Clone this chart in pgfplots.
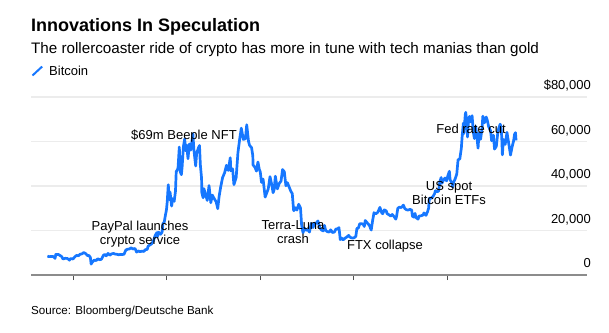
\documentclass[border=0pt]{standalone}
\usepackage{pgfplots}
\pgfplotsset{compat=1.18}
\usepackage{fontspec}
\setmainfont{Liberation Sans}
\definecolor{btc}{RGB}{22,119,255}
\definecolor{gridc}{RGB}{236,236,236}
\definecolor{axisc}{RGB}{140,140,140}
\definecolor{tickc}{RGB}{80,80,80}
\newcommand{\fs}[1]{\fontsize{#1bp}{#1bp}\selectfont}
\begin{document}
\begin{tikzpicture}[x=1bp,y=1bp]
\useasboundingbox (0,0) rectangle (609,332);
\node[anchor=base west, inner sep=0pt] at (31,301) {\fs{18}\bfseries Innovations In Speculation};
\node[anchor=base west, inner sep=0pt] at (31,278.7) {\fs{15.2}The rollercoaster ride of crypto has more in tune with tech manias than gold};
\draw[btc, line width=2bp] (32.5,256.5) -- (42.2,265.5);
\node[anchor=base west, inner sep=0pt] at (49,257) {\fs{13}Bitcoin};
\node[anchor=base west, inner sep=0pt] at (31,18) {\fs{11.6}Source: Bloomberg/Deutsche Bank};
\begin{axis}[
  at={(31bp,57bp)}, anchor=south west,
  width=556bp, height=178bp, scale only axis,
  xmin=2019.551, xmax=2025.497, ymin=0, ymax=80000,
  axis x line*=bottom, axis y line*=right,
  x axis line style={draw=axisc, line width=2bp},
  y axis line style={draw=none},
  xtick={2020,2021,2022,2023,2024}, xticklabels={{},{},{},{},{}},
  tick align=outside,
  major tick length=5bp,
  xtick style={draw=tickc, line width=0.8bp},
  scaled y ticks=false, scaled x ticks=false,
  ytick={0,20000,40000,60000,80000},
  yticklabels={0,{20,000},{40,000},{60,000},{\$80,000}},
  ytick style={draw=none},
  ymajorgrids, grid style={draw=gridc, line width=1.5bp},
  yticklabel style={anchor=base east, inner sep=0pt, xshift=-1bp, yshift=7.5bp, font=\fs{13}},
  /pgf/number format/assume math mode=true,
  clip=false,
]
\addplot[btc, line width=2.7bp, line join=round, no marks] coordinates {
(2019.727,8500) (2019.745,8250) (2019.765,8300) (2019.784,8350) (2019.797,8100) (2019.808,7450) (2019.816,9250) (2019.827,9150) (2019.841,9300) (2019.860,8800) (2019.879,8300) (2019.893,7200) (2019.901,7300) (2019.918,7500) (2019.937,7450) (2019.953,7100) (2019.962,6650) (2019.970,7250) (2019.984,7350)
(2020.000,7200) (2020.019,8150) (2020.038,8800) (2020.058,8650) (2020.077,9350) (2020.096,9500) (2020.115,10100) (2020.134,9700) (2020.153,8800) (2020.170,8800) (2020.186,7900) (2020.194,4900) (2020.200,5400) (2020.216,6200) (2020.227,6700) (2020.247,6500) (2020.266,7300) (2020.285,6850) (2020.304,7100) (2020.323,8700) (2020.339,9300) (2020.355,8600) (2020.375,9700) (2020.393,8900) (2020.413,9500) (2020.432,9700) (2020.451,9400) (2020.470,9300) (2020.489,9100) (2020.508,9250) (2020.527,9200) (2020.546,9350) (2020.565,11200) (2020.584,11600) (2020.603,11700) (2020.622,12200) (2020.641,11700) (2020.664,11900) (2020.680,10300) (2020.699,10800) (2020.718,10500) (2020.737,10700) (2020.756,10600) (2020.775,11400) (2020.794,11500) (2020.803,12900) (2020.822,13500) (2020.841,14000) (2020.860,15300) (2020.879,17800) (2020.898,19100) (2020.901,17100) (2020.916,19200) (2020.937,18300) (2020.953,19300) (2020.962,23100) (2020.976,23800) (2020.989,27000)
(2021.000,29400) (2021.008,33000) (2021.019,40600) (2021.030,33900) (2021.038,37300) (2021.055,31000) (2021.066,34300) (2021.082,33100) (2021.096,37600) (2021.104,46400) (2021.123,47900) (2021.137,57500) (2021.148,46300) (2021.159,45100) (2021.167,48500) (2021.181,57800) (2021.195,61200) (2021.203,55900) (2021.216,58300) (2021.230,52300) (2021.244,58900) (2021.260,56100) (2021.282,63500) (2021.293,56300) (2021.312,49000) (2021.323,54900) (2021.342,57200) (2021.353,58200) (2021.362,49500) (2021.375,43500) (2021.378,37000) (2021.392,34700) (2021.400,38800) (2021.419,36000) (2021.436,33500) (2021.455,40200) (2021.474,32500) (2021.490,35900) (2021.512,34200) (2021.532,32800) (2021.548,29800) (2021.563,35400) (2021.581,39900) (2021.600,43800) (2021.622,46000) (2021.641,49300) (2021.660,47000) (2021.682,52700) (2021.688,46800) (2021.707,47700) (2021.721,40600) (2021.745,43800) (2021.764,55000) (2021.784,61500) (2021.800,66000) (2021.822,60900) (2021.844,61300) (2021.858,67500) (2021.877,60100) (2021.888,58300) (2021.910,57200) (2021.923,53600) (2021.926,49400) (2021.945,48500) (2021.962,46700) (2021.978,50800) (2021.992,47500)
(2022.003,46300) (2022.016,41600) (2022.033,43100) (2022.055,35000) (2022.071,36800) (2022.088,38700) (2022.107,44200) (2022.126,40500) (2022.140,37000) (2022.151,38300) (2022.164,44400) (2022.186,38700) (2022.205,41100) (2022.225,42200) (2022.241,47400) (2022.260,46400) (2022.277,40100) (2022.293,41500) (2022.310,39700) (2022.329,37700) (2022.345,36600) (2022.359,29200) (2022.362,28900) (2022.375,30300) (2022.395,29200) (2022.414,31800) (2022.433,30100) (2022.445,22500) (2022.460,19000) (2022.475,21100) (2022.490,20100) (2022.510,20400) (2022.529,19300) (2022.548,23200) (2022.567,21300) (2022.581,23300) (2022.600,23200) (2022.619,24300) (2022.638,21400) (2022.658,20200) (2022.677,19800) (2022.690,22300) (2022.701,20200) (2022.718,19500) (2022.740,19300) (2022.756,20300) (2022.775,19100) (2022.795,19300) (2022.814,20800) (2022.825,20600) (2022.844,21300) (2022.852,18500) (2022.858,15900) (2022.871,16600) (2022.890,15800) (2022.907,16500) (2022.926,17000) (2022.948,17800) (2022.956,17300) (2022.970,16800) (2022.989,16600)
(2023.005,16700) (2023.025,17400) (2023.036,20900) (2023.052,21100) (2023.066,23000) (2023.085,23100) (2023.104,22800) (2023.115,21800) (2023.126,24500) (2023.151,23200) (2023.170,22300) (2023.189,20200) (2023.203,24100) (2023.219,28000) (2023.238,27500) (2023.260,28200) (2023.282,30400) (2023.301,28000) (2023.312,27500) (2023.329,29300) (2023.350,28800) (2023.359,27600) (2023.378,27100) (2023.397,26500) (2023.414,27200) (2023.433,26300) (2023.452,25100) (2023.460,26300) (2023.474,30000) (2023.490,30500) (2023.510,30300) (2023.534,31400) (2023.548,29900) (2023.567,29300) (2023.584,29200) (2023.603,29500) (2023.622,29200) (2023.630,26400) (2023.647,26000) (2023.658,27700) (2023.668,25800) (2023.690,25100) (2023.701,26500) (2023.721,26600) (2023.745,27000) (2023.753,27900) (2023.775,26800) (2023.792,28500) (2023.803,30000) (2023.811,34500) (2023.830,34500) (2023.852,35400) (2023.866,36500) (2023.877,37900) (2023.893,37400) (2023.910,37700) (2023.923,41900) (2023.937,43800) (2023.945,41200) (2023.962,42600) (2023.978,43600) (2023.995,42300)
(2024.011,44900) (2024.025,46600) (2024.033,42800) (2024.052,41300) (2024.060,39500) (2024.071,41800) (2024.085,43000) (2024.104,45300) (2024.118,51800) (2024.137,52200) (2024.153,57000) (2024.162,62400) (2024.175,68300) (2024.180,63500) (2024.186,66900) (2024.195,72100) (2024.200,73100) (2024.214,67900) (2024.219,62000) (2024.227,67900) (2024.240,71300) (2024.255,68800) (2024.268,71600) (2024.282,64000) (2024.293,61300) (2024.307,66800) (2024.323,60600) (2024.332,57000) (2024.342,63800) (2024.359,61000) (2024.375,66200) (2024.383,71400) (2024.400,68400) (2024.419,71000) (2024.432,69300) (2024.445,66700) (2024.466,64800) (2024.477,60300) (2024.496,62800) (2024.508,56600) (2024.527,57800) (2024.545,64800) (2024.568,67800) (2024.577,66800) (2024.585,62100) (2024.592,54000) (2024.603,60900) (2024.622,58700) (2024.641,64100) (2024.660,59100) (2024.679,53900) (2024.696,57600) (2024.712,60300) (2024.722,63200) (2024.732,64000) (2024.738,60500)
};
\node[anchor=base, inner sep=0pt, font=\fs{13}] at (axis cs:2021.187,61118) {\$69m Beeple NFT};
\node[anchor=base, inner sep=0pt, font=\fs{13}] at (axis cs:2020.717,20223) {PayPal launches};
\node[anchor=base, inner sep=0pt, font=\fs{13}] at (axis cs:2020.717,13931) {crypto service};
\node[anchor=base, inner sep=0pt, font=\fs{13}] at (axis cs:2022.353,20672) {Terra-Luna};
\node[anchor=base, inner sep=0pt, font=\fs{13}] at (axis cs:2022.353,14381) {crash};
\node[anchor=base, inner sep=0pt, font=\fs{13}] at (axis cs:2023.337,11684) {FTX collapse};
\node[anchor=base, inner sep=0pt, font=\fs{13}] at (axis cs:2024.022,38199) {US spot};
\node[anchor=base, inner sep=0pt, font=\fs{13}] at (axis cs:2024.022,31907) {Bitcoin ETFs};
\node[anchor=base, inner sep=0pt, font=\fs{13}] at (axis cs:2024.257,63815) {Fed rate cut};
\end{axis}
\end{tikzpicture}
\end{document}
